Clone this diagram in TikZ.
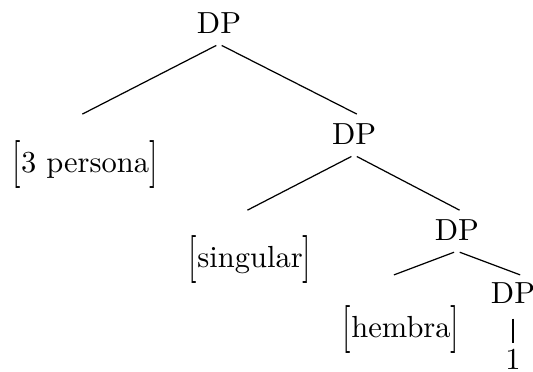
\documentclass[tikz,border=0pt]{standalone}
\usepackage{graphicx}
\usepackage{tikz}
\usetikzlibrary{positioning}

% feature bracket, stretched a bit and centred on the math axis
\newcommand{\featbr}[1]{%
  $\vcenter{\hbox{\scalebox{1}[1.57]{[}}}$#1$\vcenter{\hbox{\scalebox{1}[1.57]{]}}}$}

\begin{document}
\begin{tikzpicture}[
    x=1pt, y=1pt,
    edge/.style={shorten <=1pt, shorten >=-1pt},
    feat/.style={inner sep=3.33pt}
  ]
  \useasboundingbox (0,0) rectangle (174.75,-121.97);

  % phrase nodes
  \node (dpa) at (71.8,-7.5) {DP};
  \node (dpb) at (116.1,-43.9) {DP};
  \node (dpc) at (149.8,-75.4) {DP};
  \node (dpd) at (168.2,-96.2) {DP};
  \node (one) at (168.2,-117.8) {1};

  % feature nodes
  \node[feat] (pers) at (27.9,-54.1) {\featbr{3 persona}};
  \node[feat] (sing) at (82.0,-85.2) {\featbr{singular}};
  \node[feat] (hemb) at (131.5,-108.2) {\featbr{hembra}};

  % branches
  \draw[edge] (dpa.south) -- (pers.north |- dpb.north);
  \draw[edge] (dpa.south) -- (dpb.north);
  \draw[edge] (dpb.south) -- (sing.north |- dpc.north);
  \draw[edge] (dpb.south) -- (dpc.north);
  \draw[edge, shorten >=-2.5pt] (dpc.south) -- (hemb.north |- dpd.north);
  \draw[edge, shorten >=-2.5pt] (dpc.south) -- (dpd.north);
  \draw[shorten <=1.35pt, shorten >=-1.5pt] (dpd.south) -- (one.north);
\end{tikzpicture}
\end{document}
